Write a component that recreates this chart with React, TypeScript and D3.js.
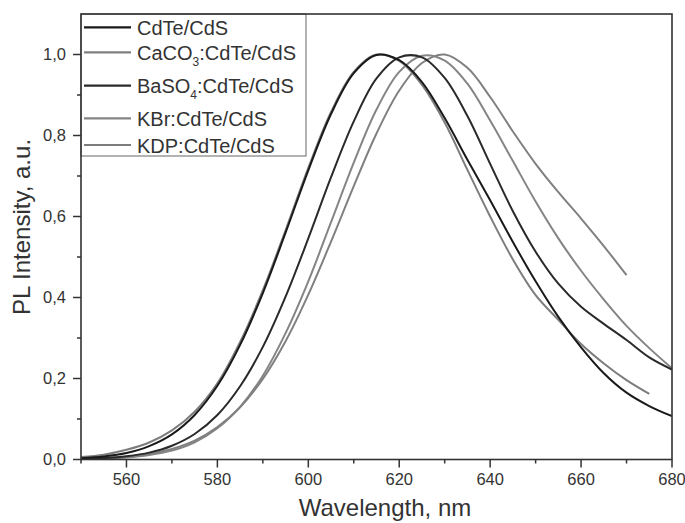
import React from 'react';
import * as d3 from 'd3';

const WAVELENGTHS = [550, 555, 560, 565, 570, 575, 580, 585, 590, 595, 600, 605, 610, 615, 620, 625, 630, 635, 640, 645, 650, 655, 660, 665, 670, 675, 680];

const CDTE_CDS = [0.0033, 0.0075, 0.016, 0.033, 0.062, 0.110, 0.182, 0.283, 0.411, 0.560, 0.714, 0.853, 0.954, 0.999, 0.986, 0.932, 0.843, 0.740, 0.640, 0.537, 0.440, 0.352, 0.277, 0.213, 0.165, 0.132, 0.107];
const CACO3_CDTE = [0.0015, 0.0032, 0.0068, 0.0136, 0.026, 0.0465, 0.080, 0.129, 0.199, 0.292, 0.407, 0.538, 0.675, 0.805, 0.911, 0.979, 1.000, 0.967, 0.895, 0.810, 0.730, 0.660, 0.595, 0.527, 0.455];
const BASO4_CDTE = [0.0015, 0.0037, 0.0082, 0.017, 0.034, 0.063, 0.110, 0.181, 0.278, 0.402, 0.546, 0.697, 0.835, 0.941, 0.993, 0.993, 0.942, 0.848, 0.730, 0.613, 0.513, 0.434, 0.377, 0.335, 0.295, 0.252, 0.222];
const KBR_CDTE = [0.0009, 0.0022, 0.005, 0.011, 0.022, 0.0425, 0.077, 0.130, 0.207, 0.312, 0.440, 0.586, 0.733, 0.864, 0.957, 0.997, 0.985, 0.928, 0.837, 0.737, 0.637, 0.546, 0.466, 0.395, 0.330, 0.275, 0.225];
const KDP_CDTE = [0.006, 0.012, 0.024, 0.042, 0.072, 0.118, 0.188, 0.290, 0.418, 0.566, 0.720, 0.858, 0.957, 1.000, 0.984, 0.925, 0.832, 0.715, 0.600, 0.494, 0.406, 0.345, 0.285, 0.237, 0.196, 0.162];

const X_TICKS = [560, 580, 600, 620, 640, 660, 680];
const X_MINOR = [550, 570, 590, 610, 630, 650, 670];
const Y_TICKS = [0, 0.2, 0.4, 0.6, 0.8, 1.0];
const Y_TICK_LABELS = ['0,0', '0,2', '0,4', '0,6', '0,8', '1,0'];
const Y_MINOR = [0.1, 0.3, 0.5, 0.7, 0.9];

const SERIES = [
  { key: 'kbr', values: KBR_CDTE, color: '#858585' },
  { key: 'caco3', values: CACO3_CDTE, color: '#808080' },
  { key: 'kdp', values: KDP_CDTE, color: '#7d7d7d' },
  { key: 'baso4', values: BASO4_CDTE, color: '#2a2a2a' },
  { key: 'cdte', values: CDTE_CDS, color: '#1a1a1a' },
];

const LEGEND = [
  { main: 'CdTe/CdS', sub: '', rest: '', color: '#1a1a1a' },
  { main: 'CaCO', sub: '3', rest: ':CdTe/CdS', color: '#808080' },
  { main: 'BaSO', sub: '4', rest: ':CdTe/CdS', color: '#2a2a2a' },
  { main: 'KBr:CdTe/CdS', sub: '', rest: '', color: '#858585' },
  { main: 'KDP:CdTe/CdS', sub: '', rest: '', color: '#7d7d7d' },
];
const LEGEND_ROW_Y = [27.3, 52.3, 85.7, 118.3, 145];

const FONT = '"Liberation Sans", Arial, Helvetica, sans-serif';

export default function App() {
  const W = 685, H = 523;
  const L = 81, R = 672, T = 14, B = 459.5;
  const x = d3.scaleLinear().domain([550, 680]).range([L, R]);
  const y = d3.scaleLinear().domain([0, 1.1]).range([B, T]);
  const line = d3.line<[number, number]>()
    .x(d => x(d[0]))
    .y(d => y(d[1]))
    .curve(d3.curveCatmullRom.alpha(0.5));

  const axisColor = '#333';
  const textColor = '#333';

  return (
    <svg width={W} height={H} style={{ position: 'absolute', left: 0, top: 0, background: '#fff' }} fontFamily={FONT}>
      <defs>
        <clipPath id="plot">
          <rect x={L} y={T} width={R - L} height={B - T} />
        </clipPath>
      </defs>
      <rect x={0} y={0} width={W} height={H} fill="#fff" />
      <g clipPath="url(#plot)">
        {SERIES.map(s => (
          <path
            key={s.key}
            d={line(s.values.map((v, i) => [WAVELENGTHS[i], v] as [number, number])) || ''}
            fill="none"
            stroke={s.color}
            strokeWidth={2}
            strokeLinejoin="round"
          />
        ))}
      </g>
      {/* legend */}
      <rect x={L} y={T} width={306 - L} height={156 - T} fill="none" stroke="#666" strokeWidth={1} />
      {LEGEND.map((l, i) => (
        <g key={i}>
          <line x1={84} x2={131} y1={LEGEND_ROW_Y[i]} y2={LEGEND_ROW_Y[i]} stroke={l.color} strokeWidth={2.2} />
          <text x={137} y={LEGEND_ROW_Y[i] + 7.5} fontSize={20} fill={textColor}>
            <tspan>{l.main}</tspan>
            {l.sub && <tspan dy={6} fontSize={12}>{l.sub}</tspan>}
            {l.rest && <tspan dy={-6}>{l.rest}</tspan>}
          </text>
        </g>
      ))}
      {/* frame */}
      <rect x={L} y={T} width={R - L} height={B - T} fill="none" stroke={axisColor} strokeWidth={1.6} />
      {/* x ticks */}
      {X_TICKS.map(t => (
        <g key={'xt' + t}>
          <line x1={x(t)} x2={x(t)} y1={B} y2={B + 8} stroke={axisColor} strokeWidth={1.5} />
          <text x={x(t)} y={485} fontSize={16.5} textAnchor="middle" fill={textColor}>{t}</text>
        </g>
      ))}
      {X_MINOR.map(t => (
        <line key={'xm' + t} x1={x(t)} x2={x(t)} y1={B} y2={B + 4} stroke={axisColor} strokeWidth={1.5} />
      ))}
      {/* y ticks */}
      {Y_TICKS.map((t, i) => (
        <g key={'yt' + t}>
          <line x1={L - 8} x2={L} y1={y(t)} y2={y(t)} stroke={axisColor} strokeWidth={1.5} />
          <text x={66} y={y(t) + 5.8} fontSize={16.5} textAnchor="end" fill={textColor}>{Y_TICK_LABELS[i]}</text>
        </g>
      ))}
      {Y_MINOR.map(t => (
        <line key={'ym' + t} x1={L - 4} x2={L} y1={y(t)} y2={y(t)} stroke={axisColor} strokeWidth={1.5} />
      ))}
      {/* axis titles */}
      <text x={385} y={516} fontSize={24} textAnchor="middle" fill={textColor}>Wavelength, nm</text>
      <text transform="translate(30,227) rotate(-90)" fontSize={24} textAnchor="middle" fill={textColor}>PL Intensity, a.u.</text>
    </svg>
  );
}
